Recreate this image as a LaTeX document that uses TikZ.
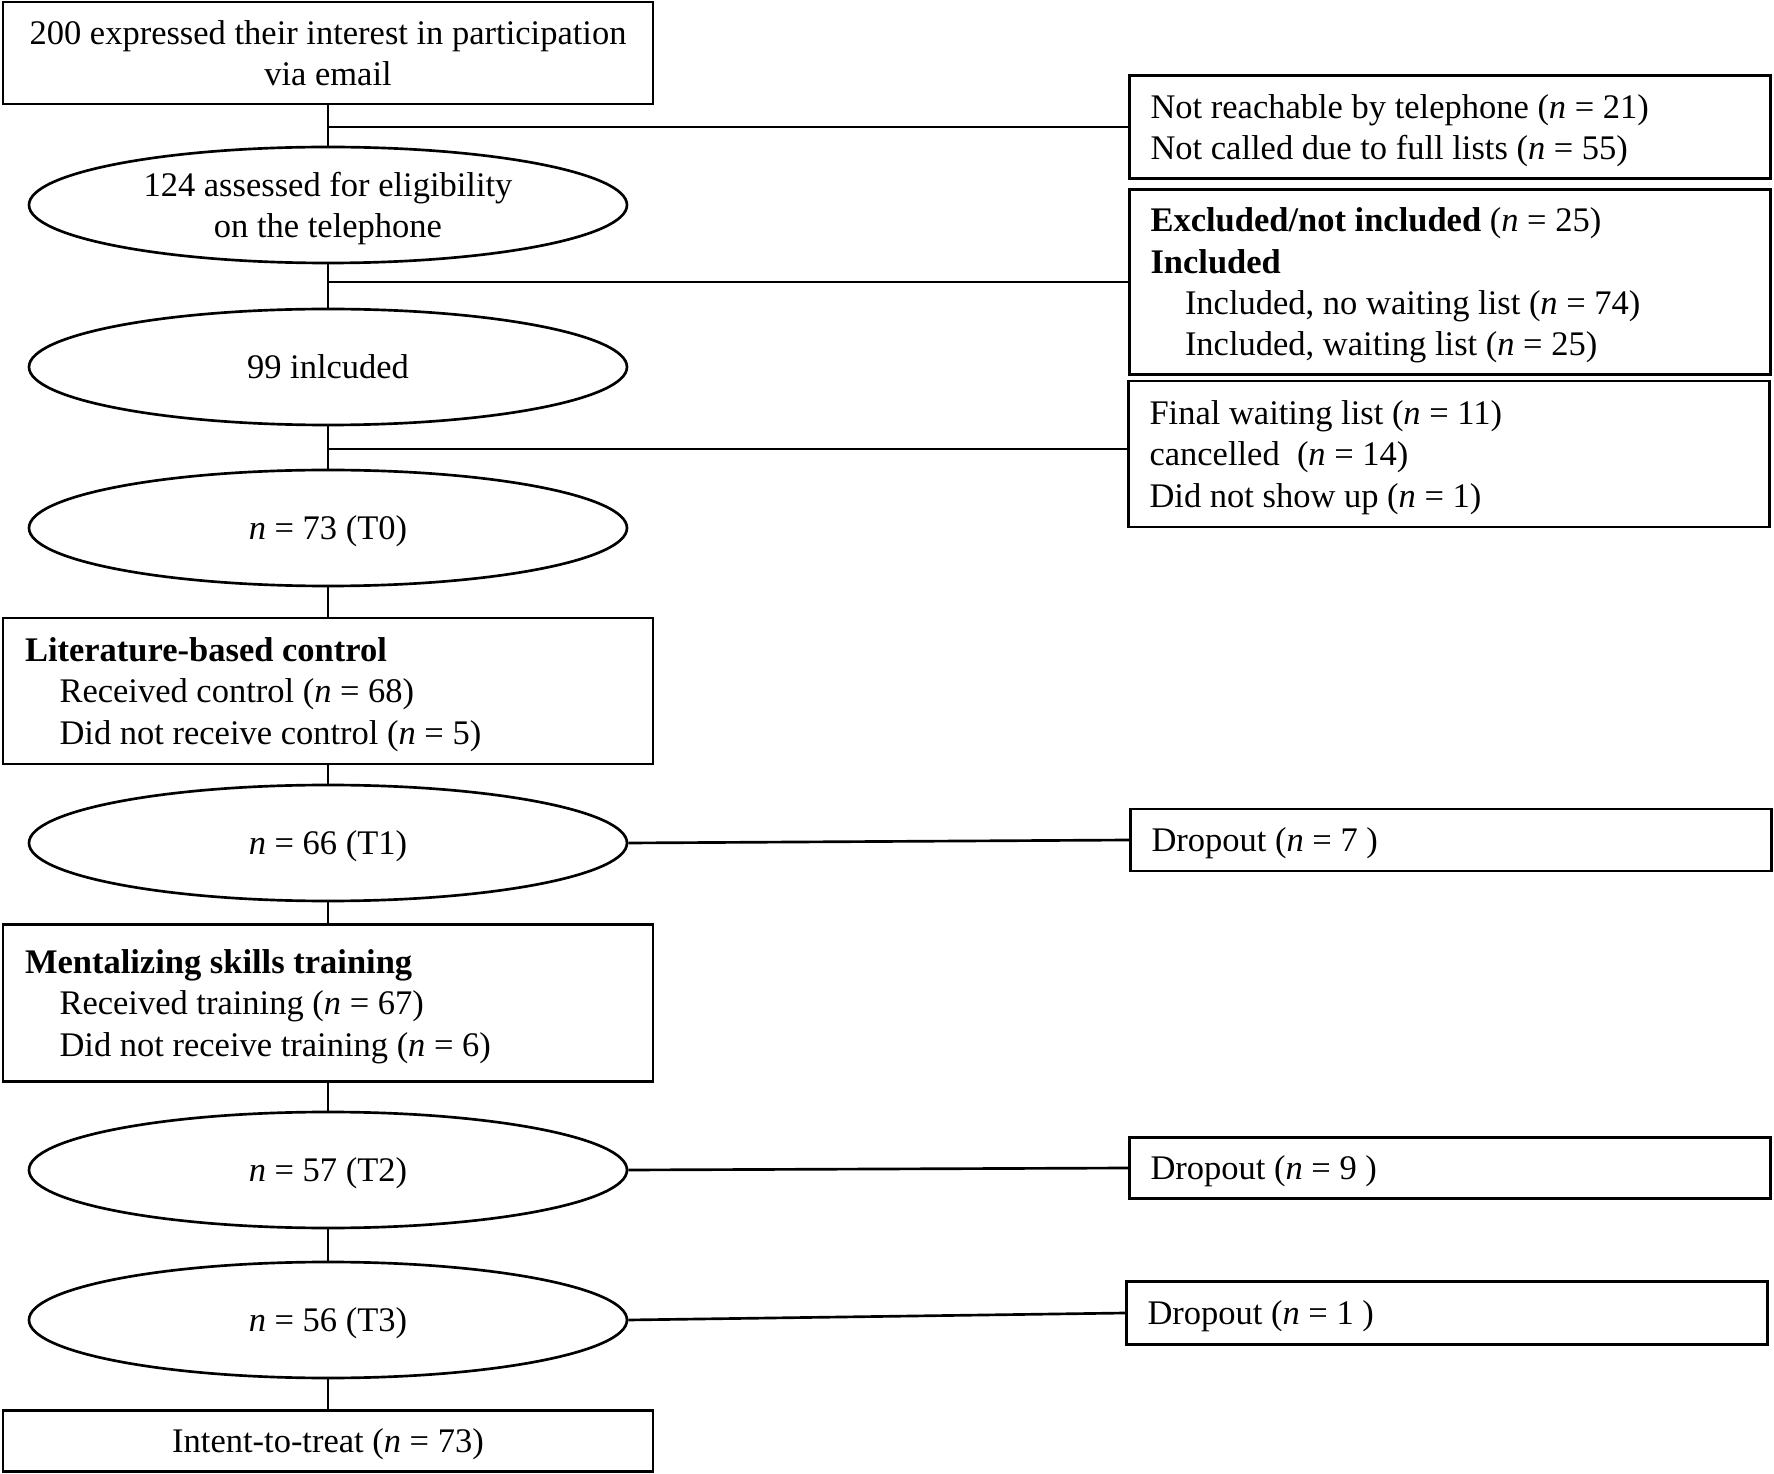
\documentclass[tikz,border=0pt]{standalone}
\usepackage{fontspec}
\setmainfont{Liberation Serif}
\usetikzlibrary{shapes.geometric}

\newcommand{\nn}{\textit{n}}

\tikzset{
  base/.style={draw, line width=0.8pt, font=\fontsize{10.35pt}{12.4pt}\selectfont,
    execute at begin node={\spaceskip=0pt\xspaceskip=0pt}},
  leftbox/.style={base, rectangle, align=left, text width=181.8pt, inner xsep=6.6pt, minimum height=#1},
  sidebox/.style={base, rectangle, align=left, text width=179.7pt, inner xsep=6.3pt, minimum height=#1},
  midbox/.style={base, rectangle, align=center, minimum width=195pt, minimum height=#1},
  oval/.style={base, ellipse, align=center, inner sep=0pt, minimum width=179.4pt, minimum height=34.8pt},
  link/.style={line width=0.8pt}
}

\begin{document}
\begin{tikzpicture}[x=0.3pt, y=-0.3pt]
  \useasboundingbox (0,0) rectangle (1774,1474);

  % main column
  \node[midbox=30.6pt] (top) at (328,53) {200 expressed their interest in participation\\via email};
  \node[oval, text depth=0pt] (assess) at (328,205) {124 assessed for eligibility\\on the telephone};
  \node[oval] (incl) at (328,367) {99 inlcuded};
  \node[oval, text depth=0pt] (t0) at (328,528) {\nn{} = 73 (T0)};
  \node[leftbox=43.8pt, text depth=24.8pt] (ctrl) at (328,691) {\textbf{Literature-based control}\\
    \hspace*{1em}Received control (\nn{} = 68)\\
    \hspace*{1em}Did not receive control (\nn{} = 5)};
  \node[oval, text depth=0pt] (t1) at (328,843) {\nn{} = 66 (T1)};
  \node[leftbox=47.1pt, text depth=24.8pt] (train) at (328,1003) {\textbf{Mentalizing skills training}\\
    \hspace*{1em}Received training (\nn{} = 67)\\
    \hspace*{1em}Did not receive training (\nn{} = 6)};
  \node[oval, text depth=0pt] (t2) at (328,1170) {\nn{} = 57 (T2)};
  \node[oval, text depth=0pt] (t3) at (328,1320) {\nn{} = 56 (T3)};
  \node[midbox=18.3pt, text depth=0pt] (itt) at (328,1441) {Intent-to-treat (\nn{} = 73)};

  % side boxes
  \node[sidebox=30.9pt, text depth=12.4pt] (notreach) at (1450,127) {Not reachable by telephone (\nn{} = 21)\\
    Not called due to full lists (\nn{} = 55)};
  \node[sidebox=55.5pt, text depth=37.2pt] (excl) at (1450,282) {\textbf{Excluded/not included} (\nn{} = 25)\\
    \textbf{Included}\\
    \hspace*{1em}Included, no waiting list (\nn{} = 74)\\
    \hspace*{1em}Included, waiting list (\nn{} = 25)};
  \node[sidebox=43.8pt, text depth=24.8pt] (wait) at (1449,454) {Final waiting list (\nn{} = 11)\\
    cancelled~ (\nn{} = 14)\\
    Did not show up (\nn{} = 1)};
  \node[sidebox=18.6pt, text depth=0pt] (drop1) at (1451,840) {Dropout (\nn{} = 7 )};
  \node[sidebox=18.3pt, text depth=0pt] (drop2) at (1450,1168) {Dropout (\nn{} = 9 )};
  \node[sidebox=18.9pt, text depth=0pt] (drop3) at (1447,1313) {Dropout (\nn{} = 1 )};
  \coordinate (waitin) at ([yshift=1.5pt]wait.west);

  % connectors
  \draw[link] (top) -- (assess);
  \draw[link] (assess) -- (incl);
  \draw[link] (incl) -- (t0);
  \draw[link] (t0) -- (ctrl);
  \draw[link] (ctrl) -- (t1);
  \draw[link] (t1) -- (train);
  \draw[link] (train) -- (t2);
  \draw[link] (t2) -- (t3);
  \draw[link] (t3) -- (itt);
  \draw[link] (top.south |- notreach.west) -- (notreach.west);
  \draw[link] (assess.south |- excl.west) -- (excl.west);
  \draw[link] (incl.south |- waitin) -- (waitin);
  \draw[link] (t1.east) -- (drop1.west);
  \draw[link] (t2.east) -- (drop2.west);
  \draw[link] (t3.east) -- (drop3.west);
\end{tikzpicture}
\end{document}
